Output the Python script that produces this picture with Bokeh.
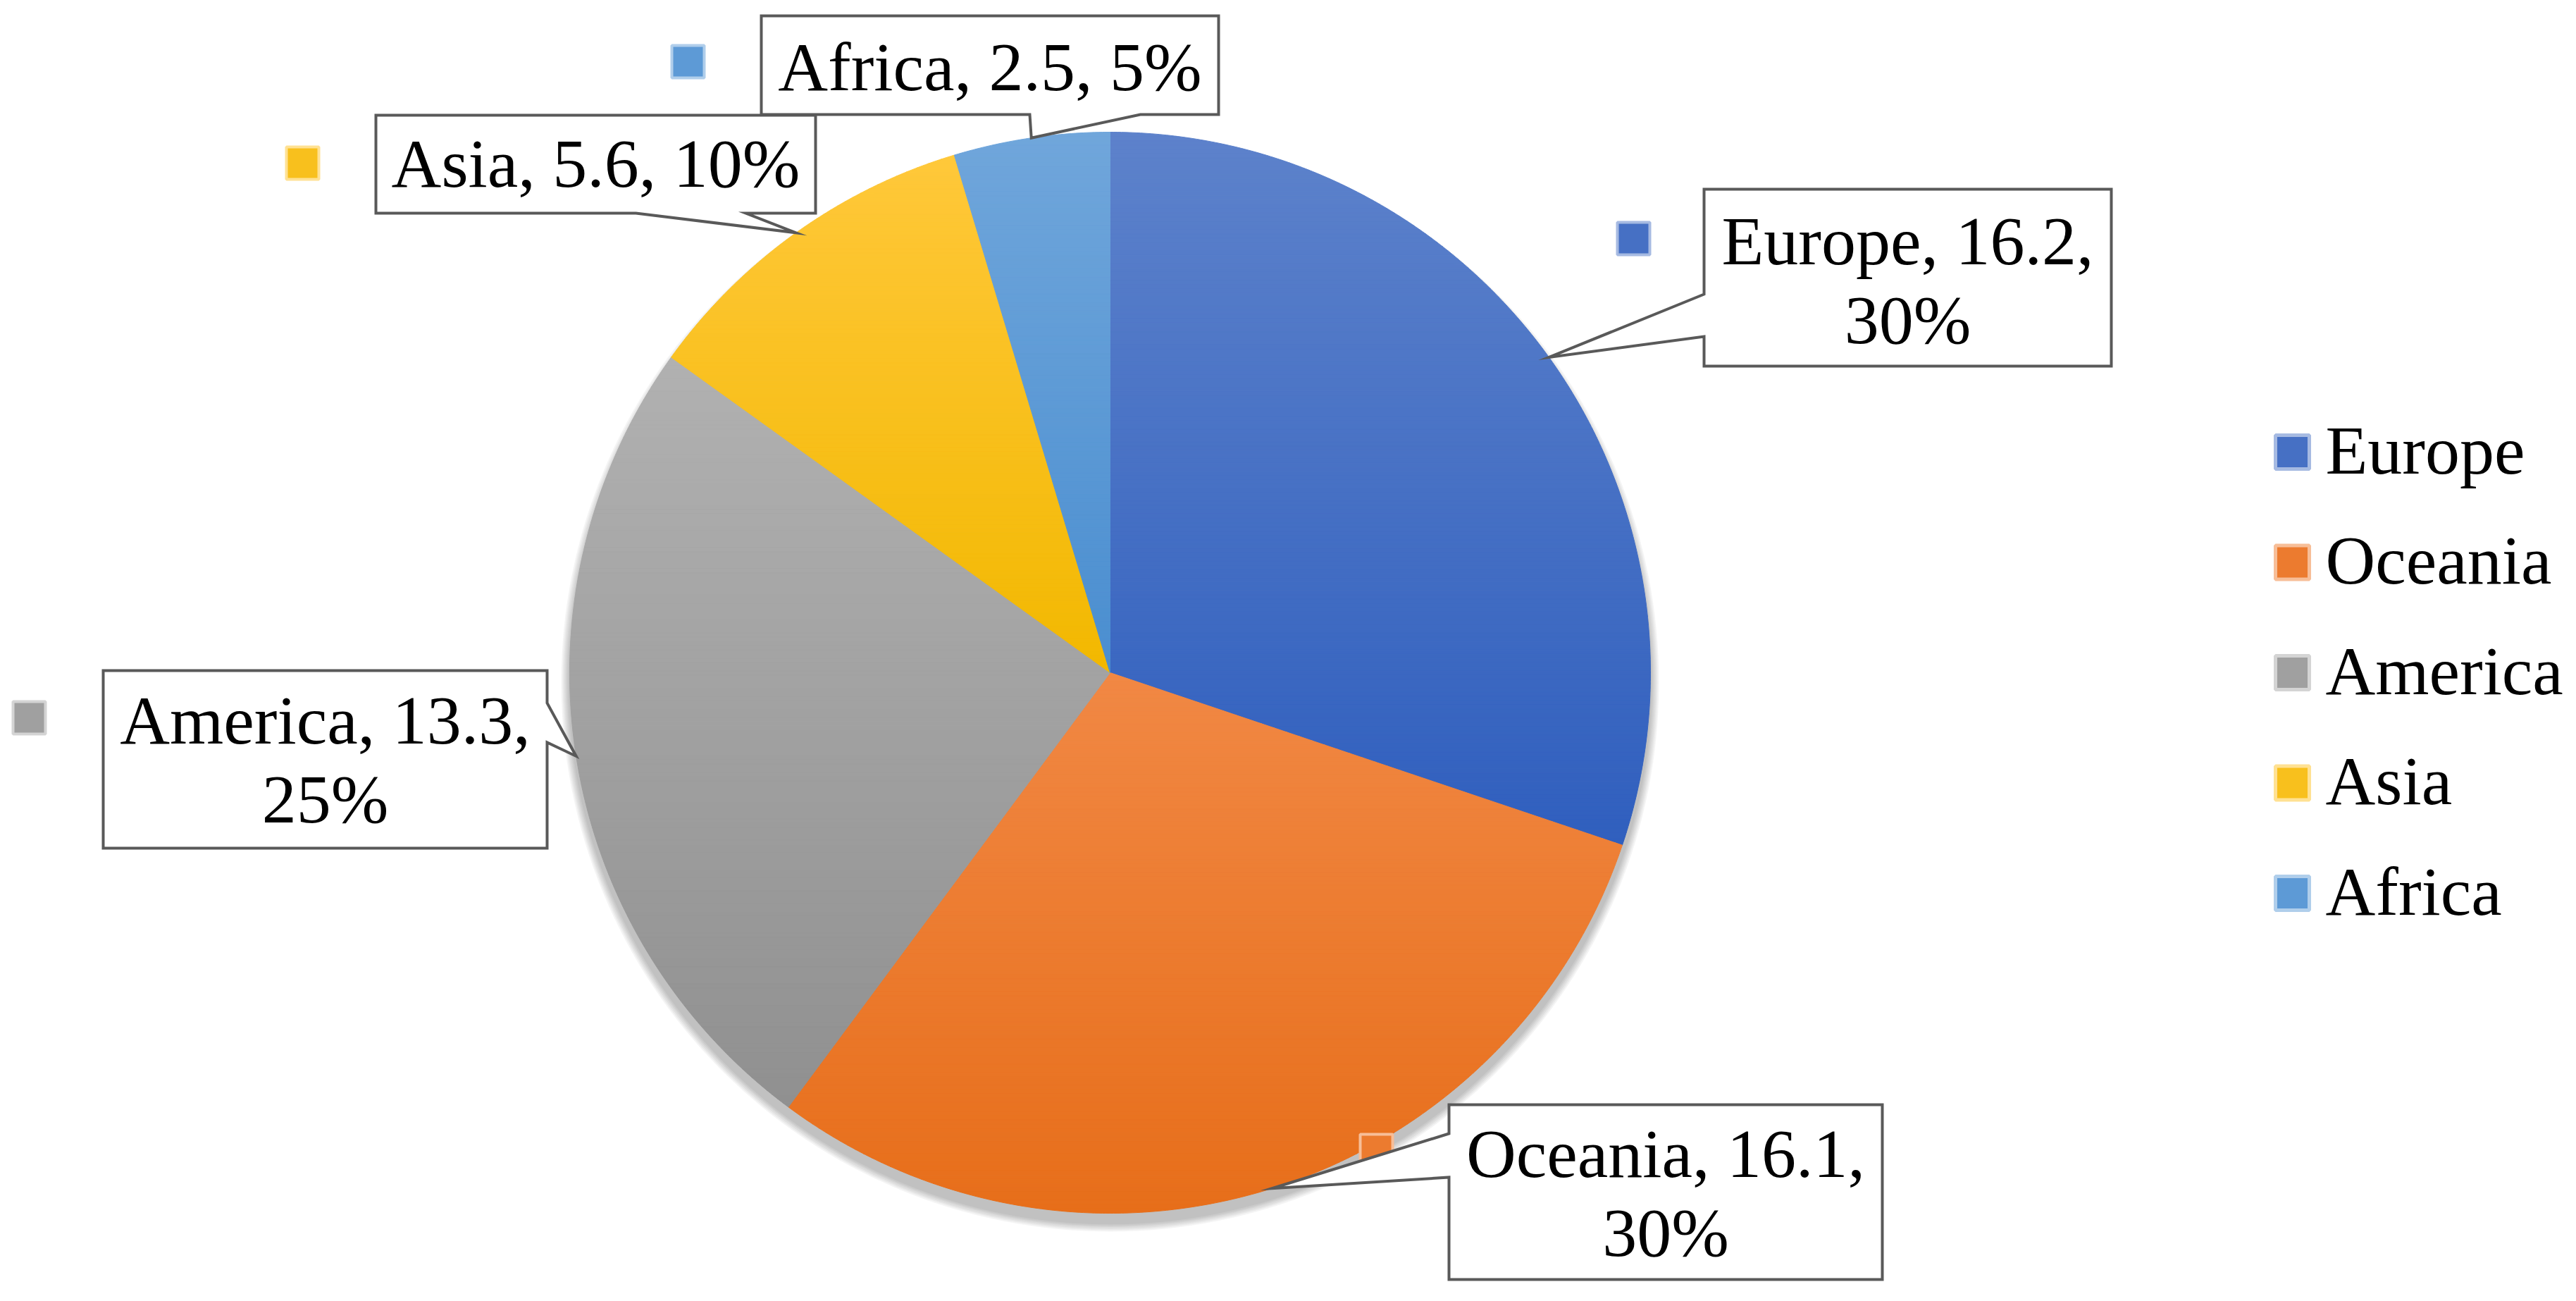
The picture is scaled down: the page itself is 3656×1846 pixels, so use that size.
import math
from bokeh.plotting import figure
from bokeh.models import Range1d
from bokeh.core.properties import value
from bokeh.embed import file_html
from bokeh.resources import INLINE

# ---------------- data ----------------
categories = ["Europe", "Oceania", "America", "Asia", "Africa"]
values = [16.2, 16.1, 13.3, 5.6, 2.5]
top_colors = ["#5D82CB", "#F18844", "#B1B1B1", "#FFC83A", "#70A6DB"]
bottom_colors = ["#305FBE", "#E76E1A", "#909090", "#F2B800", "#4A8ED0"]

# ---------------- layout (reference pixel coordinates) ----------------
W, H, OFF = 3640, 1830, 0
CX, CY, R = 1575, 954, 767
FONT = value("Liberation Serif")
FS = "98px"
TXT_SHIFT = -34

# label callouts: box, pointer side, pointer base, marker centre, text baselines
label_box = {
    "Europe": (2418, 268, 2996, 519),
    "Oceania": (2056, 1567, 2671, 1815),
    "America": (146, 951, 776, 1203),
    "Asia": (533, 163, 1157, 302),
    "Africa": (1080, 22, 1729, 162),
}
label_side = {"Europe": "left", "Oceania": "left", "America": "right",
              "Asia": "bottom", "Africa": "bottom"}
label_base = {"Europe": (417, 477), "Oceania": (1608, 1670), "America": (997, 1053),
              "Asia": (902, 1058), "Africa": (1461, 1618)}
label_marker = {"Europe": (2318, 338), "Oceania": (1953, 1632), "America": (41, 1018),
                "Asia": (429, 231), "Africa": (976, 87)}
label_baselines = {"Europe": [375, 487], "Oceania": [1670, 1782], "America": [1055, 1167],
                   "Asia": [265], "Africa": [128]}

LEG_X, LEG_Y0, LEG_DY, LEG_TX = 3253, 641, 156.5, 3300


def hex2rgb(h):
    h = h.lstrip("#")
    return tuple(int(h[i:i + 2], 16) for i in (0, 2, 4))


def mix(c1, c2, t):
    a, b = hex2rgb(c1), hex2rgb(c2)
    return "#%02x%02x%02x" % tuple(int(round(a[i] + (b[i] - a[i]) * t)) for i in range(3))


def clip_half(pts, keep, yb):
    out = []
    n = len(pts)
    for i in range(n):
        P = pts[i]
        Q = pts[(i + 1) % n]
        pin, qin = keep(P[1]), keep(Q[1])
        if pin:
            out.append(P)
        if pin != qin:
            t = (yb - P[1]) / (Q[1] - P[1])
            out.append((P[0] + t * (Q[0] - P[0]), yb))
    return out


def clip_band(poly, y0, y1):
    pts = clip_half(poly, lambda y: y >= y0, y0)
    if len(pts) < 3:
        return []
    pts = clip_half(pts, lambda y: y <= y1, y1)
    return pts if len(pts) >= 3 else []


p = figure(width=W, height=H, x_range=Range1d(OFF, OFF + W), y_range=Range1d(OFF + H, OFF),
           output_backend="svg", toolbar_location=None, min_border=0,
           x_axis_location=None, y_axis_location=None)
p.grid.visible = False
p.outline_line_color = None
p.background_fill_color = "white"
p.border_fill_color = "white"

# ---------------- shadow ----------------
for k in range(1, 7):
    p.circle(x=[CX], y=[CY + 14], radius=R + 2 * k, fill_color="black", fill_alpha=0.045,
             line_color=None)

# ---------------- pie slices with vertical gradient ----------------
total = sum(values)
angles = []
acc = 0.0
for v in values:
    a0 = acc / total * 2 * math.pi
    acc += v
    a1 = acc / total * 2 * math.pi
    angles.append((a0, a1))

xs, ys, cols = [], [], []
for i, (a0, a1) in enumerate(angles):
    n = max(8, int((a1 - a0) / math.radians(0.4)))
    poly = [(CX, CY)]
    for j in range(n + 1):
        a = a0 + (a1 - a0) * j / n
        poly.append((CX + R * math.sin(a), CY - R * math.cos(a)))
    ymin = min(q[1] for q in poly)
    ymax = max(q[1] for q in poly)
    nb = max(2, int((ymax - ymin) / 6))
    for b in range(nb):
        y0 = ymin + (ymax - ymin) * b / nb
        y1 = ymin + (ymax - ymin) * (b + 1) / nb
        piece = clip_band(poly, y0, y1)
        if not piece:
            continue
        t = (b + 0.5) / nb
        xs.append([q[0] for q in piece])
        ys.append([q[1] for q in piece])
        cols.append(mix(top_colors[i], bottom_colors[i], t))
p.patches(xs=xs, ys=ys, fill_color=cols, line_color=cols, line_width=1)

# ---------------- data label markers ----------------
for i, c in enumerate(categories):
    mx, my = label_marker[c]
    p.rect(x=[mx], y=[my], width=46, height=46,
           fill_color=mix(top_colors[i], bottom_colors[i], 0.5),
           line_color=mix(top_colors[i], "#ffffff", 0.45), line_width=4)

# ---------------- callouts ----------------
for i, c in enumerate(categories):
    x0, y0, x1, y1 = label_box[c]
    a0, a1 = angles[i]
    am = (a0 + a1) / 2
    tip = (CX + R * math.sin(am), CY - R * math.cos(am))
    b1, b2 = label_base[c]
    side = label_side[c]
    if side == "left":
        pts = [(x0, y0), (x1, y0), (x1, y1), (x0, y1), (x0, b2), tip, (x0, b1)]
    elif side == "right":
        pts = [(x0, y0), (x1, y0), (x1, b1), tip, (x1, b2), (x1, y1), (x0, y1)]
    else:
        pts = [(x0, y0), (x1, y0), (x1, y1), (b2, y1), tip, (b1, y1), (x0, y1)]
    p.patch(x=[q[0] for q in pts], y=[q[1] for q in pts], fill_color="white",
            line_color="#595959", line_width=4, line_join="miter")

    pct = round(values[i] / total * 100)
    if len(label_baselines[c]) == 2:
        lines = [f"{c}, {values[i]:g},", f"{pct}%"]
    else:
        lines = [f"{c}, {values[i]:g}, {pct}%"]
    for txt, yb in zip(lines, label_baselines[c]):
        p.text(x=[(x0 + x1) / 2], y=[yb + TXT_SHIFT], text=[txt], text_font=FONT,
               text_font_size=FS, text_align="center", text_baseline="alphabetic",
               text_color="black")

# ---------------- legend ----------------
for i, c in enumerate(categories):
    ly = LEG_Y0 + i * LEG_DY
    p.rect(x=[LEG_X], y=[ly], width=48, height=48,
           fill_color=mix(top_colors[i], bottom_colors[i], 0.5),
           line_color=mix(top_colors[i], "#ffffff", 0.45), line_width=5)
    p.text(x=[LEG_TX], y=[ly + 31 + TXT_SHIFT], text=[c], text_font=FONT, text_font_size=FS,
           text_align="left", text_baseline="alphabetic", text_color="black")

open("out.html", "w").write(file_html(p, INLINE))
